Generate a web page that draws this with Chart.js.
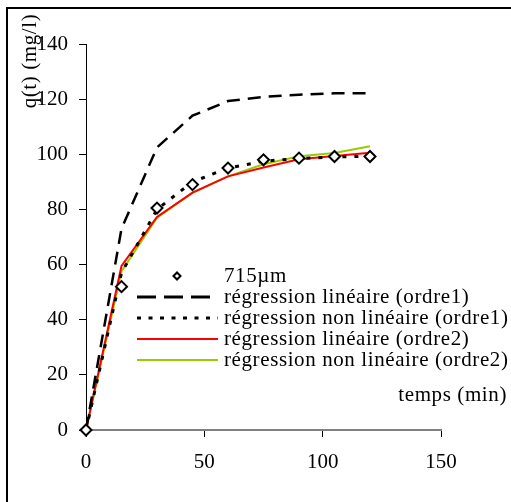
<!DOCTYPE html>
<html>
<head>
<meta charset="utf-8">
<script src="https://cdn.jsdelivr.net/npm/chart.js@4.4.1/dist/chart.umd.min.js"></script>
<style>
  html, body { margin: 0; padding: 0; background: #fff; }
  #wrap { width: 511px; height: 502px; position: relative; }
</style>
</head>
<body>
<div id="wrap"><canvas id="cinetique"></canvas></div>
<script>
    // temps de contact (min) et quantités adsorbées q(t) (mg/l)
    var temps = [0, 15, 30, 45, 60, 75, 90, 105, 120];
    var qExp = [0, 52, 80.5, 89, 95, 98, 98.6, 99.2, 99.2];
    var qLinOrdre1 = [0, 73, 102.5, 114, 119.3, 120.8, 121.6, 122.1, 122.1];
    var qNonLinOrdre1 = [0, 57, 80, 90, 95, 97.5, 98.5, 99, 99.3];
    var qLinOrdre2 = [0, 59.5, 77.3, 86.1, 92, 95.2, 98.2, 99.4, 100.6];
    var qNonLinOrdre2 = [0, 57.5, 77, 86, 92, 96.4, 99.3, 100.5, 102.9];
    var noms = ['715µm', 'régression linéaire (ordre1)', 'régression non linéaire (ordre1)',
                'régression linéaire (ordre2)', 'régression non linéaire (ordre2)'];
    var xTicks = [0, 50, 100, 150];
    var yTicks = [0, 20, 40, 60, 80, 100, 120, 140];

    var police = "'Liberation Serif', 'Times New Roman', serif";
    Chart.defaults.font.family = police;
    Chart.defaults.font.size = 21;
    Chart.defaults.color = '#000';

    function points(ys) {
        return temps.map(function (t, i) { return { x: t, y: ys[i] }; });
    }

    // cadre, titres d'axes et légende dessinés à la main
    var decor = {
        id: 'decor',
        afterDraw: function (chart) {
            var c = chart.ctx;
            c.save();
            c.strokeStyle = '#000';
            c.lineWidth = 2;
            c.beginPath();
            c.moveTo(7, 502); c.lineTo(7, 8); c.lineTo(511, 8);
            c.stroke();

            c.fillStyle = '#000';
            c.font = '21px ' + police;
            c.letterSpacing = '0.6px';
            c.textBaseline = 'middle';
            c.save();
            c.translate(30, 61);
            c.rotate(-Math.PI / 2);
            c.textAlign = 'center';
            c.fillText('q(t) (mg/l)', 0, 0);
            c.restore();
            c.textAlign = 'right';
            c.fillText('temps (min)', 507, 395);

            // légende
            c.textAlign = 'left';
            var ds = chart.data.datasets;
            for (var i = 0; i < ds.length; i++) {
                var y = 276 + i * 21;
                if (i === 0) {
                    c.save();
                    c.translate(177, y);
                    c.rotate(Math.PI / 4);
                    c.fillStyle = '#fff';
                    c.fillRect(-2.5, -2.5, 5, 5);
                    c.lineWidth = 2;
                    c.strokeRect(-2.5, -2.5, 5, 5);
                    c.restore();
                } else {
                    c.save();
                    c.strokeStyle = ds[i].borderColor;
                    c.lineWidth = ds[i].borderDash.length ? 3 : 2;
                    if (i === 1) c.setLineDash([19, 8]);
                    if (i === 2) c.setLineDash([4, 7.5]);
                    c.beginPath();
                    c.moveTo(137, y); c.lineTo(218, y);
                    c.stroke();
                    c.restore();
                }
                c.fillText(ds[i].label, 224, y);
            }
            c.restore();
        }
    };

    var ctx = document.getElementById('cinetique').getContext('2d');
    var chart = new Chart(ctx, {
        type: 'scatter',
        data: {
            datasets: [{
                label: noms[0],
                data: points(qExp),
                showLine: false,
                clip: false,
                pointStyle: 'rectRot',
                pointRadius: 5.5,
                borderColor: '#000',
                backgroundColor: '#fff',
                borderWidth: 2,
                borderDash: []
            }, {
                label: noms[1],
                data: points(qLinOrdre1),
                showLine: true,
                borderColor: '#000',
                borderWidth: 2.5,
                borderDash: [13, 8],
                pointRadius: 0
            }, {
                label: noms[2],
                data: points(qNonLinOrdre1),
                showLine: true,
                borderColor: '#000',
                borderWidth: 3,
                borderDash: [4, 8],
                pointRadius: 0
            }, {
                label: noms[3],
                data: points(qLinOrdre2),
                showLine: true,
                borderColor: '#ff0000',
                borderWidth: 2,
                borderDash: [],
                pointRadius: 0
            }, {
                label: noms[4],
                data: points(qNonLinOrdre2),
                showLine: true,
                borderColor: '#99cc00',
                borderWidth: 2,
                borderDash: [],
                pointRadius: 0
            }]
        },
        options: {
            responsive: true,
            maintainAspectRatio: false,
            animation: false,
            layout: { padding: { left: 0, top: 44, right: 70, bottom: 0 } },
            plugins: { legend: { display: false }, tooltip: { enabled: false } },
            scales: {
                x: {
                    type: 'linear',
                    min: xTicks[0],
                    max: xTicks[xTicks.length - 1],
                    afterBuildTicks: function (s) { s.ticks = xTicks.map(function (v) { return { value: v }; }); },
                    afterFit: function (s) { s.height = 72; },
                    grid: { drawOnChartArea: false, tickLength: 7, tickColor: '#000', lineWidth: 1 },
                    border: { color: '#808080', width: 2 },
                    ticks: { padding: 13, maxRotation: 0 }
                },
                y: {
                    min: yTicks[0],
                    max: yTicks[yTicks.length - 1],
                    afterBuildTicks: function (s) { s.ticks = yTicks.map(function (v) { return { value: v }; }); },
                    afterFit: function (s) { s.width = 86; },
                    grid: { drawOnChartArea: false, tickLength: 7, tickColor: '#000', lineWidth: 1 },
                    border: { color: '#000', width: 1 },
                    ticks: { padding: 11 }
                }
            }
        },
        plugins: [decor]
    });
</script>
</body>
</html>
